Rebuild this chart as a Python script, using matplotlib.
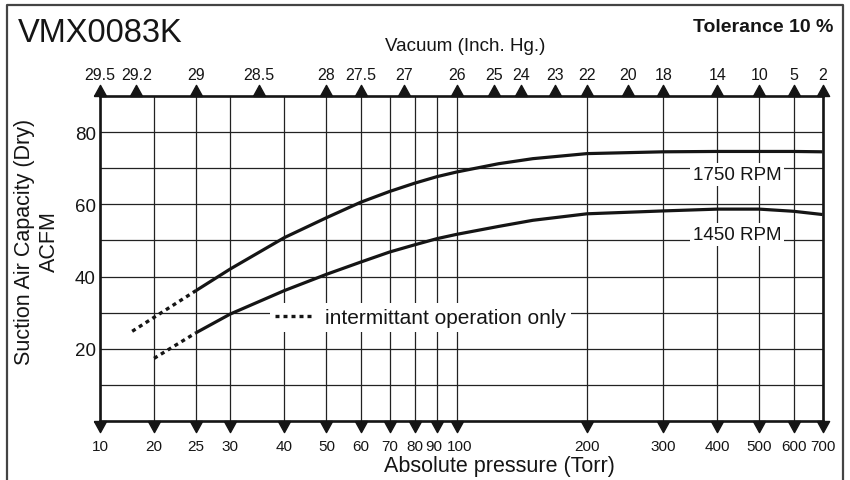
import matplotlib.pyplot as plt
from matplotlib.path import Path
from matplotlib.lines import Line2D
from matplotlib.transforms import ScaledTranslation

plt.rcParams['font.family'] = ['Liberation Sans', 'DejaVu Sans']

# ---------------------------
# Data
# ---------------------------
pressure = [25, 30, 40, 50, 60, 70, 80, 90, 100, 125, 150, 200, 300, 400, 500, 600, 700]
cap_1750 = [36.1, 42.1, 50.8, 56.3, 60.6, 63.6, 65.9, 67.7, 69.0, 71.3, 72.7, 74.1, 74.6, 74.7, 74.7, 74.7, 74.6]
cap_1450 = [24.4, 29.6, 36.1, 40.6, 44.0, 46.8, 48.8, 50.5, 51.7, 53.9, 55.6, 57.4, 58.2, 58.7, 58.7, 58.1, 57.2]

# intermittent operation parts (dotted)
pressure_dot_1750 = [17.8, 25]
cap_dot_1750 = [24.8, 36.1]
pressure_dot_1450 = [20, 25]
cap_dot_1450 = [17.3, 24.4]

# bottom axis (Torr); the left edge of the chart is labelled "10"
torr_ticks = [15, 20, 25, 30, 40, 50, 60, 70, 80, 90, 100, 200, 300, 400, 500, 600, 700]
torr_labels = ['10', '20', '25', '30', '40', '50', '60', '70', '80', '90', '100',
               '200', '300', '400', '500', '600', '700']

# top axis (vacuum in inch Hg) placed at the matching pressure
vac_ticks = [15, 18.2, 25, 35, 50, 60, 75.5, 100, 122, 141, 169, 200, 249, 300, 400, 500, 600, 700]
vac_labels = ['29.5', '29.2', '29', '28.5', '28', '27.5', '27', '26', '25', '24', '23',
              '22', '20', '18', '14', '10', '5', '2']

y_major = [20, 40, 60, 80]
y_minor = [10, 30, 50, 70]

# ---------------------------
# Figure
# ---------------------------
fig = plt.figure(figsize=(8.5, 4.81), dpi=100)
ax = fig.add_axes([100 / 850, 1 - 421.7 / 481, 722.5 / 850, 324.4 / 481])

ink = '#151515'

ax.plot(pressure, cap_1750, color=ink, lw=2.3, solid_capstyle='butt', zorder=3)
ax.plot(pressure, cap_1450, color=ink, lw=2.3, solid_capstyle='butt', zorder=3)
ax.plot(pressure_dot_1750, cap_dot_1750, color=ink, lw=2.4, ls=(0, (1.2, 1.2)),
        dash_capstyle='butt', zorder=3)
ax.plot(pressure_dot_1450, cap_dot_1450, color=ink, lw=2.4, ls=(0, (1.2, 1.2)),
        dash_capstyle='butt', zorder=3)

ax.set_xscale('log')
ax.set_xlim(15, 700)
ax.set_ylim(0, 90)

ax.set_xticks(torr_ticks, labels=torr_labels)
ax.xaxis.set_minor_locator(plt.NullLocator())
ax.set_yticks(y_major)
ax.set_yticks(y_minor, minor=True)
ax.tick_params(axis='x', which='both', length=0, pad=13, labelsize=11, colors=ink)
ax.tick_params(axis='y', which='both', length=0, pad=3, labelsize=13.5, colors=ink)
ax.grid(True, which='both', color='#222222', lw=0.9)

# keep the crowded "90" / "100" labels apart
for lab in ax.get_xticklabels():
    if lab.get_text() == '90':
        lab.set_transform(lab.get_transform() + ScaledTranslation(-2.5 / 72, 0, fig.dpi_scale_trans))
    if lab.get_text() == '100':
        lab.set_transform(lab.get_transform() + ScaledTranslation(2 / 72, 0, fig.dpi_scale_trans))

for s in ax.spines.values():
    s.set_linewidth(1.9)
    s.set_color(ink)

# top axis with vacuum scale
ax2 = ax.twiny()
ax2.set_xscale('log')
ax2.set_xlim(ax.get_xlim())
ax2.set_xticks(vac_ticks, labels=vac_labels)
ax2.xaxis.set_minor_locator(plt.NullLocator())
ax2.tick_params(axis='x', which='both', length=0, pad=10, labelsize=11.5, colors=ink)
for s in ax2.spines.values():
    s.set_visible(False)

# triangle markers on both axes
up = Path([(-0.55, 0), (0.55, 0), (0, 1), (-0.55, 0)])
down = Path([(-0.55, 0), (0.55, 0), (0, -1), (-0.55, 0)])
ax2.plot(vac_ticks, [1] * len(vac_ticks), ls='none', marker=up, ms=16, color=ink,
         transform=ax2.get_xaxis_transform(), clip_on=False, zorder=5)
ax.plot(torr_ticks, [0] * len(torr_ticks), ls='none', marker=down, ms=16, color=ink,
        transform=ax.get_xaxis_transform(), clip_on=False, zorder=5)

# curve labels
box = dict(facecolor='white', edgecolor='none', pad=2)
ax.text(445, 68.3, '1750 RPM', ha='center', va='center', fontsize=13.5, color=ink, bbox=box, zorder=4)
ax.text(445, 51.6, '1450 RPM', ha='center', va='center', fontsize=13.5, color=ink, bbox=box, zorder=4)

handle = Line2D([], [], color=ink, lw=2.4, ls=(0, (1.2, 1.2)), dash_capstyle='butt')
leg = ax.legend([handle], ['intermittant operation only'], loc='center',
                bbox_to_anchor=(0.444, 0.318), fontsize=15, frameon=True, fancybox=False,
                handlelength=1.76, handletextpad=0.64, borderpad=0.25, borderaxespad=0)
leg.get_frame().set_facecolor('white')
leg.get_frame().set_edgecolor('none')
leg.get_frame().set_alpha(1)
for t in leg.get_texts():
    t.set_color(ink)

# ---------------------------
# Titles and axis labels
# ---------------------------
fig.text(18 / 850, 1 - 41.7 / 481, 'VMX0083K', fontsize=23.5, color=ink, va='baseline')
fig.text(833 / 850, 1 - 32 / 481, 'Tolerance 10 %', fontsize=14, fontweight='bold',
         color=ink, ha='right', va='baseline')
fig.text(465.5 / 850, 1 - 51 / 481, 'Vacuum (Inch. Hg.)', fontsize=13.5, color=ink,
         ha='center', va='baseline')
fig.text(499.5 / 850, 1 - 472 / 481, 'Absolute pressure (Torr)', fontsize=15.5, color=ink,
         ha='center', va='baseline')
fig.text(37 / 850, 1 - 242 / 481, 'Suction Air Capacity (Dry)\nACFM', fontsize=15.5,
         color=ink, rotation=90, ha='center', va='center', multialignment='center')

# outer frame (open at the bottom)
frame_x = [6.5 / 850, 6.5 / 850, 843 / 850, 843 / 850]
frame_y = [-0.01, 1 - 5.5 / 481, 1 - 5.5 / 481, -0.01]
fig.add_artist(Line2D(frame_x, frame_y, color='#444444', lw=1.6, transform=fig.transFigure))

fig.savefig('out.png', dpi=100)
